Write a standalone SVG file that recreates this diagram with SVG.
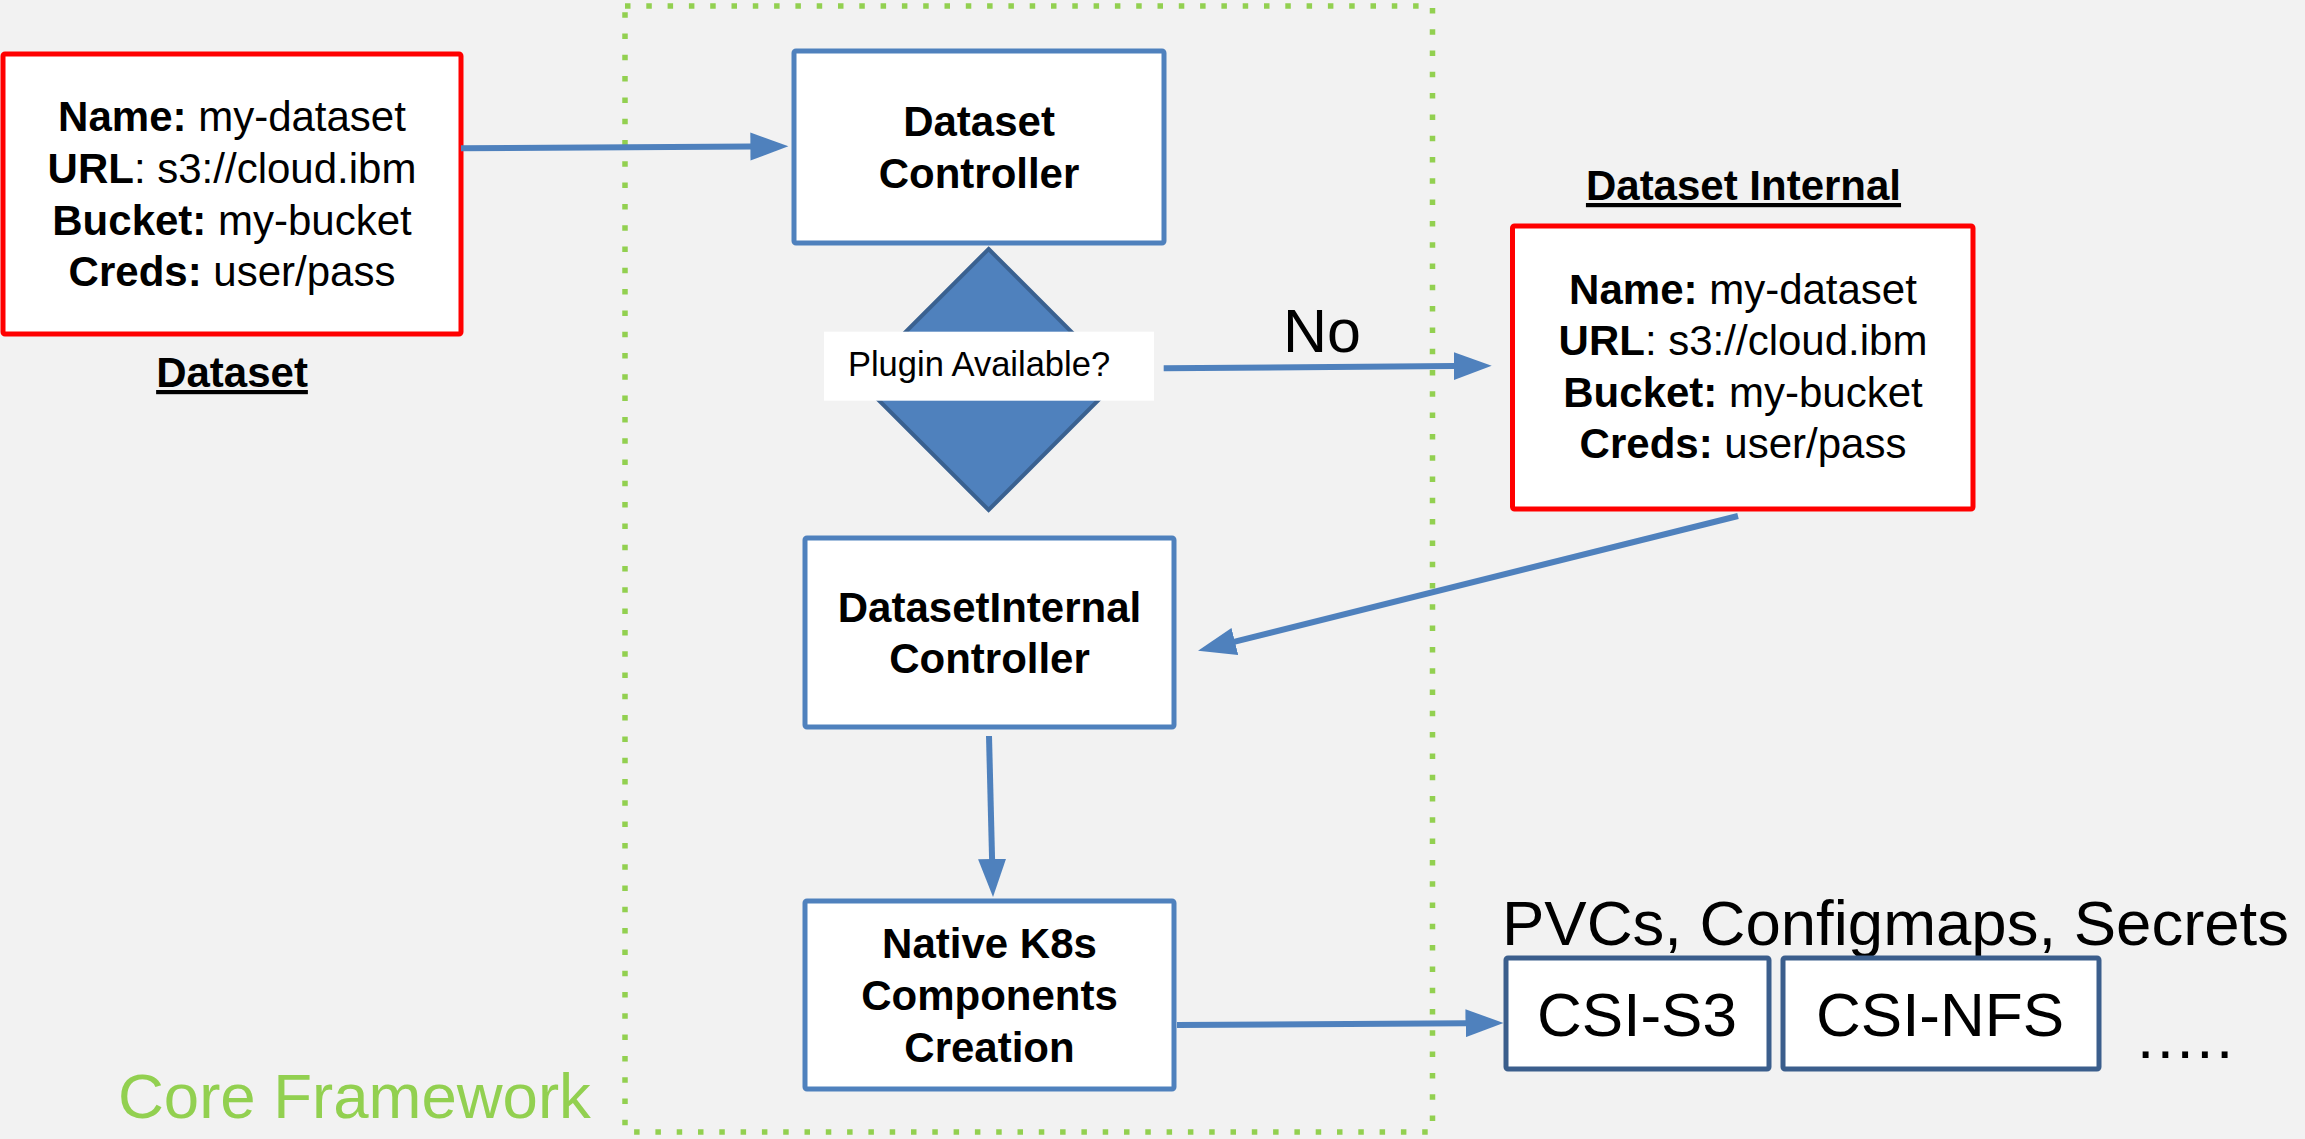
<svg xmlns="http://www.w3.org/2000/svg" width="2305" height="1139" viewBox="0 0 2305 1139">
  <style>
    text { font-family: "Liberation Sans", Arial, sans-serif; fill: #000; }
    .b { font-weight: bold; }
    .spec { fill: #fff; stroke: #ff0000; stroke-width: 5; }
    .ctrl { fill: #fff; stroke: #4f81bd; stroke-width: 5; }
    .csi { fill: #fff; stroke: #3b5e8c; stroke-width: 5; }
    .conn { stroke: #4f81bd; stroke-width: 6; fill: none; marker-end: url(#arrow); }
    .green { fill: #92d050; }
  </style>
  <defs>
    <marker id="arrow" markerUnits="userSpaceOnUse" markerWidth="40" markerHeight="30" refX="1" refY="14" orient="auto">
      <path d="M0,0 L38,14 L0,28 z" fill="#4f81bd"/>
    </marker>
  </defs>

  <rect x="0" y="0" width="2305" height="1139" fill="#f2f2f2"/>

  <!-- core framework boundary -->
  <g id="core-framework">
    <rect x="625" y="6" width="807.5" height="1126" fill="none" stroke="#92d050" stroke-width="5.5" stroke-dasharray="5.5 15.8"/>
    <text class="green" x="118" y="1117.7" font-size="63.5">Core Framework</text>
  </g>

  <!-- Dataset resource -->
  <g id="dataset">
    <rect class="spec" x="3" y="54" width="458" height="280" rx="2"/>
    <text x="232" y="131" font-size="42" text-anchor="middle"><tspan class="b">Name:</tspan> my-dataset</text>
    <text x="232" y="183" font-size="42" text-anchor="middle"><tspan class="b">URL</tspan>: s3://cloud.ibm</text>
    <text x="232" y="234.5" font-size="42" text-anchor="middle"><tspan class="b">Bucket:</tspan> my-bucket</text>
    <text x="232" y="286" font-size="42" text-anchor="middle"><tspan class="b">Creds:</tspan> user/pass</text>
    <text class="b" x="232" y="387" font-size="42" text-anchor="middle" text-decoration="underline">Dataset</text>
  </g>

  <!-- Dataset controller -->
  <g id="dataset-controller">
    <rect class="ctrl" x="794" y="51" width="370" height="192" rx="2"/>
    <text class="b" x="979" y="136" font-size="42" text-anchor="middle">Dataset</text>
    <text class="b" x="979" y="188" font-size="42" text-anchor="middle">Controller</text>
  </g>

  <!-- plugin decision -->
  <g id="plugin-decision">
    <polygon points="988.6,249 1119,379.5 988.6,510 858,379.5" fill="#4f81bd" stroke="#3a6190" stroke-width="4"/>
    <rect x="824" y="331.7" width="330" height="69" fill="#fff"/>
    <text x="979" y="376" font-size="34.5" text-anchor="middle">Plugin Available?</text>
  </g>

  <!-- Dataset Internal resource -->
  <g id="dataset-internal">
    <text class="b" x="1743.5" y="200" font-size="42" text-anchor="middle" text-decoration="underline">Dataset Internal</text>
    <rect class="spec" x="1512.5" y="226" width="460.5" height="283" rx="2"/>
    <text x="1743" y="304" font-size="42" text-anchor="middle"><tspan class="b">Name:</tspan> my-dataset</text>
    <text x="1743" y="354.5" font-size="42" text-anchor="middle"><tspan class="b">URL</tspan>: s3://cloud.ibm</text>
    <text x="1743" y="406.5" font-size="42" text-anchor="middle"><tspan class="b">Bucket:</tspan> my-bucket</text>
    <text x="1743" y="458" font-size="42" text-anchor="middle"><tspan class="b">Creds:</tspan> user/pass</text>
  </g>

  <!-- DatasetInternal controller -->
  <g id="datasetinternal-controller">
    <rect class="ctrl" x="805" y="538" width="369" height="189" rx="2"/>
    <text class="b" x="989.5" y="621.5" font-size="42" text-anchor="middle">DatasetInternal</text>
    <text class="b" x="989.5" y="673" font-size="42" text-anchor="middle">Controller</text>
  </g>

  <!-- native k8s components -->
  <g id="native-k8s">
    <rect class="ctrl" x="805" y="901" width="369" height="188" rx="2"/>
    <text class="b" x="989.5" y="958" font-size="42" text-anchor="middle">Native K8s</text>
    <text class="b" x="989.5" y="1010" font-size="42" text-anchor="middle">Components</text>
    <text class="b" x="989.5" y="1062" font-size="42" text-anchor="middle">Creation</text>
  </g>

  <!-- storage drivers -->
  <g id="storage-drivers">
    <text x="1502" y="945" font-size="63.5">PVCs, Configmaps, Secrets</text>
    <g id="csi-s3">
      <rect class="csi" x="1506" y="958" width="263" height="111" rx="2"/>
      <text x="1637" y="1036" font-size="62" text-anchor="middle">CSI-S3</text>
    </g>
    <g id="csi-nfs">
      <rect class="csi" x="1783" y="958" width="316" height="111" rx="2"/>
      <text x="1940" y="1036" font-size="62" text-anchor="middle">CSI-NFS</text>
    </g>
    <text x="2137" y="1058" font-size="62" letter-spacing="2.5">.....</text>
  </g>

  <!-- connectors -->
  <g id="connectors">
    <line class="conn" x1="461" y1="148.3" x2="751.4" y2="146.5"/>
    <line class="conn" x1="1163.7" y1="368.3" x2="1454.7" y2="366"/>
    <text x="1322" y="351.7" font-size="61" text-anchor="middle">No</text>
    <line class="conn" x1="1738" y1="516" x2="1233.9" y2="641.8"/>
    <line class="conn" x1="989" y1="736" x2="992.1" y2="860"/>
    <line class="conn" x1="1177" y1="1025" x2="1466.5" y2="1023.2"/>
  </g>
</svg>
